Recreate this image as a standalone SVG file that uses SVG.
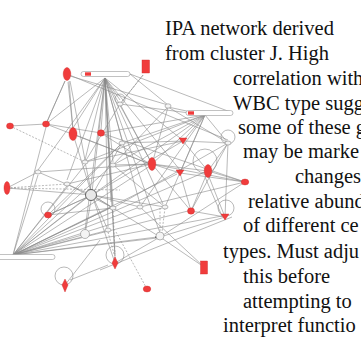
<svg xmlns="http://www.w3.org/2000/svg" width="361" height="360" viewBox="0 0 361 360">
<defs>
<style>
.e{stroke:#8a8a8a;stroke-width:0.6;fill:none}
.d{stroke:#8a8a8a;stroke-width:0.6;fill:none;stroke-dasharray:2 1.5}
.r{fill:#f03c3c;stroke:#d02828;stroke-width:0.4}
.g{fill:#f4f4f4;stroke:#888;stroke-width:0.6}
.loop{fill:none;stroke:#8a8a8a;stroke-width:0.6}
.pill{fill:#fff;stroke:#999;stroke-width:0.6}
.pb{fill:#f03c3c}
.t{font-family:"Liberation Serif","Times New Roman",serif;font-size:20.5px;fill:#111}
</style>
<marker id="a" viewBox="0 0 6 6" refX="6" refY="3" markerWidth="4" markerHeight="4" orient="auto"><path d="M0,0L6,3L0,6z" fill="#666"/></marker>
</defs>
<rect width="361" height="360" fill="#fff"/>
<g id="connectors">
<!-- fan from top pill hub -->
<path class="e" d="M105,78L46,124M105,78L73,128M105,78L101,130M105,78L120,100M105,78L85,160M105,78L113,162M105,78L122,140M105,78L92,192M105,78L113,205M105,78L140,204M105,78L163,204M105,78L108,227M105,78L115,258M105,78L150,160M105,78L180,138M105,78L67,180M105,78L85,230M105,78L38,170M105,78L180,170M105,78L160,233"/>
<!-- fan from bottom-left pill hub -->
<path class="e" d="M13,255L38,175M13,255L67,186M13,255L88,197M13,255L110,208M13,255L137,208M13,255L162,208M13,255L105,231M13,255L82,235M13,255L157,238M13,255L85,165M13,255L110,167M13,255L150,166M13,255L120,145M13,255L177,174M13,255L188,211M13,255L222,216M13,255L205,172M13,255L46,127"/>
<!-- fan from right pill hub -->
<path class="e" d="M205,115L168,107M205,115L122,143M205,115L113,165M205,115L92,195M205,115L85,162M205,115L120,104M205,115L183,141M205,115L152,164M205,115L140,207M205,115L165,207M205,115L228,143M205,115L101,133M205,115L180,173"/>
<!-- other edges -->
<path class="e" d="M46,124L65,81M73,130L69,81M85,160L70,81M67,74L228,140M70,76L168,105M130,74L168,105M130,74L233,113M46,124L101,133M46,124L150,164M73,134L150,164M73,134L92,195M101,133L150,164M101,133L245,182M7,188L38,172M7,188L92,195M38,172L92,195M38,172L150,164M85,162L92,195M85,162L183,141M92,195L113,208M92,195L140,207M92,195L165,207M92,195L85,234M92,195L108,230M92,195L115,263M92,195L160,237M152,164L208,171M152,164L180,173M152,164L245,182M152,164L191,211M183,141L208,171M183,141L228,143M183,141L92,195M228,143L208,171M228,143L191,211M228,143L225,217M208,171L245,182M208,171L191,211M180,173L191,211M180,173L245,182M191,211L225,217M225,217L160,237M232,217L100,270M160,237L204,267M140,207L204,267M115,263L160,237M65,285L100,240M245,182L160,237M48,215L92,195M48,215L113,208M48,215L120,145M122,143L183,141M122,143L92,195M113,165L152,164M113,165L165,207M67,184L152,164M67,184L113,208M10,126L46,124M168,107L228,143M168,107L152,164M168,107L113,165M120,104L85,162M120,104L152,164M228,143L113,208M245,182L140,207"/>
<path class="d" d="M120,104L144,74M10,126L85,162M7,188L67,184M7,188L120,190M160,208L160,232M165,208L162,232M108,232L114,254M147,289L116,232M113,208L115,254"/>
<!-- arrowheads -->
<path class="e" marker-end="url(#a)" d="M46,124L65,81M73,130L68,82M120,104L143,75M70,280L108,265M222,216L205,177M225,217L209,177M48,215L88,197M13,255L87,197M105,78L111,202M105,78L115,256M13,255L110,208M13,255L157,237"/>
</g>
<g id="n1"><ellipse class="r" cx="67" cy="74" rx="3.8" ry="6.5"/></g>
<g id="p1"><rect class="pill" x="81" y="71.5" width="49" height="5" rx="2.5"/><rect class="pb" x="85" y="72.3" width="6" height="3.4"/></g>
<g id="n2"><rect class="r" x="142" y="60" width="7.5" height="13"/></g>
<g id="n3"><circle class="loop" cx="120" cy="99" r="5"/><ellipse class="g" cx="120" cy="104" rx="3" ry="2"/></g>
<g id="n4"><ellipse class="g" cx="168" cy="106" rx="3" ry="2.2"/></g>
<g id="p2"><rect class="pill" x="186" y="110.5" width="47" height="5" rx="2.5"/><rect class="pb" x="188" y="111.3" width="6" height="3.4"/></g>
<g id="n5"><ellipse class="r" cx="10" cy="126" rx="3.5" ry="3"/></g>
<g id="n6"><ellipse class="r" cx="46" cy="124" rx="3.5" ry="3"/></g>
<g id="n7"><ellipse class="r" cx="73" cy="134" rx="4" ry="6.5"/></g>
<g id="n8"><ellipse class="r" cx="101" cy="133" rx="3.5" ry="3.2"/></g>
<g id="n9"><ellipse class="g" cx="122" cy="143" rx="3" ry="2"/></g>
<g id="n10"><path class="r" d="M179,138L187,138L183,144z"/></g>
<g id="n11"><circle class="loop" cx="228" cy="137" r="7"/><ellipse class="g" cx="228" cy="143" rx="3" ry="2"/></g>
<g id="n12"><ellipse class="g" cx="85" cy="162" rx="3" ry="2"/></g>
<g id="n13"><ellipse class="g" cx="113" cy="165" rx="3" ry="2"/></g>
<g id="n14"><ellipse class="r" cx="152" cy="164" rx="3.8" ry="6.5"/></g>
<g id="n15"><ellipse class="g" cx="38" cy="172" rx="3" ry="2"/></g>
<g id="n16"><path class="r" d="M176,170L184,170L180,176z"/></g>
<g id="n17"><circle class="loop" cx="205" cy="161" r="12"/><ellipse class="r" cx="208" cy="171" rx="3.8" ry="6.5"/></g>
<g id="n18"><ellipse class="g" cx="67" cy="184" rx="3" ry="2"/></g>
<g id="n19"><ellipse class="r" cx="7" cy="188" rx="3" ry="6.5"/></g>
<g id="n20"><ellipse class="r" cx="245" cy="182" rx="3.8" ry="3"/></g>
<g id="n21"><circle cx="91" cy="195" r="5.5" fill="#e8e8e8" stroke="#555" stroke-width="0.9"/></g>
<g id="n22"><circle class="loop" cx="48" cy="209" r="7"/><ellipse class="r" cx="48" cy="215" rx="3.5" ry="3"/></g>
<g id="n23"><ellipse class="g" cx="113" cy="208" rx="3" ry="2"/></g>
<g id="n24"><ellipse class="g" cx="140" cy="207" rx="3" ry="2"/></g>
<g id="n25"><ellipse class="g" cx="165" cy="207" rx="3" ry="2"/></g>
<g id="n26"><ellipse class="r" cx="191" cy="211" rx="3.5" ry="3.2"/></g>
<g id="n27"><circle class="loop" cx="226" cy="208" r="8"/><path class="r" d="M221,214L229,214L225,220z"/></g>
<g id="n28"><circle class="g" cx="85" cy="234" r="4.5"/></g>
<g id="n29"><ellipse class="g" cx="108" cy="230" rx="3" ry="2"/></g>
<g id="n30"><circle class="g" cx="160" cy="236" r="4"/></g>
<g id="p3"><rect class="pill" x="-3" y="254.5" width="58" height="5" rx="2.5"/></g>
<g id="n31"><circle class="loop" cx="115" cy="255" r="9"/><path class="r" d="M115,257L118,263L115,269L112,263z"/></g>
<g id="n32"><circle class="loop" cx="64" cy="276" r="9"/><path class="r" d="M65,279L68,285L65,292L62,285z"/></g>
<g id="n33"><ellipse class="r" cx="147" cy="289" rx="3.8" ry="3"/></g>
<g id="n34"><rect class="r" x="200.5" y="261" width="7" height="13"/></g>
<g id="caption">
<text class="t" x="165" y="35">IPA network derived</text>
<text class="t" x="165" y="60">from cluster J. High</text>
<text class="t" x="233" y="85">correlation with</text>
<text class="t" x="233" y="110">WBC type sugg</text>
<text class="t" x="238" y="134">some of these g</text>
<text class="t" x="243" y="158">may be marke</text>
<text class="t" x="295" y="183">changes</text>
<text class="t" x="248" y="208">relative abund</text>
<text class="t" x="243" y="232">of different ce</text>
<text class="t" x="223" y="258">types. Must adju</text>
<text class="t" x="243" y="283">this before</text>
<text class="t" x="243" y="308">attempting to</text>
<text class="t" x="223" y="332">interpret functio</text>
</g>
</svg>
